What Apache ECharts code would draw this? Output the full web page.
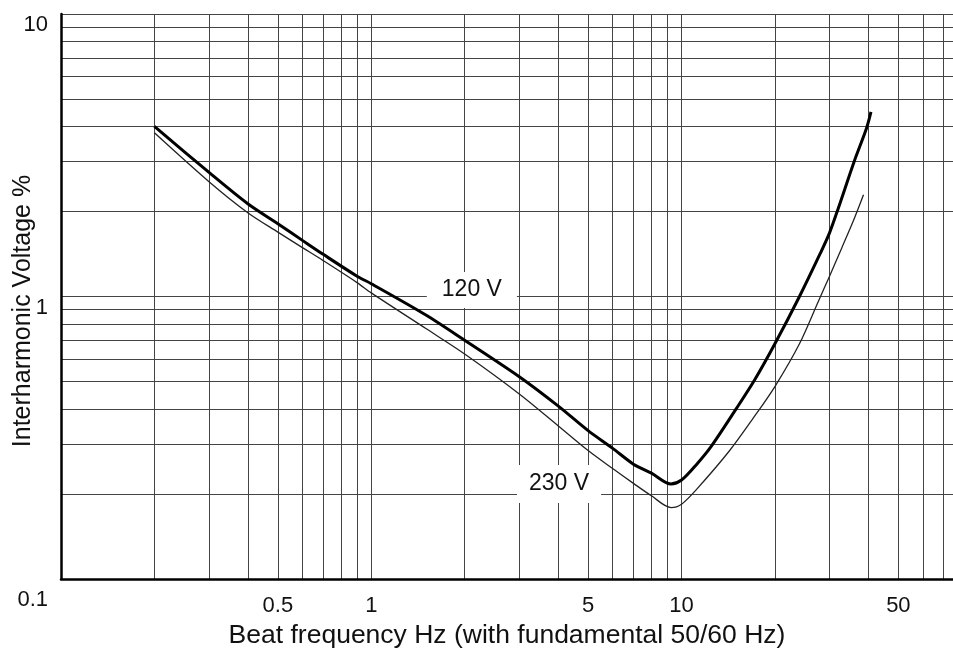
<!DOCTYPE html>
<html>
<head>
<meta charset="utf-8">
<title>Interharmonic voltage vs beat frequency</title>
<script src="https://cdn.jsdelivr.net/npm/echarts@6/dist/echarts.min.js"></script>
<style>html,body{margin:0;padding:0;background:#fff;}</style>
</head>
<body>
<div id="main" style="width:953px;height:651px;"></div>
<script>
// 120 V curve (thick line)
var freq120 = [0.2, 0.3, 0.4, 0.5, 0.6, 0.7, 0.9, 1.0, 1.5, 2, 3, 4, 5, 6, 7, 8, 9.25, 10, 11.2, 12.5, 15, 17.2, 20, 24, 28, 30, 32, 36, 39.5, 40.8];
var volt120 = [4.0, 2.75, 2.13, 1.81, 1.58, 1.41, 1.18, 1.11, 0.86, 0.70, 0.52, 0.41, 0.335, 0.29, 0.255, 0.237, 0.217, 0.224, 0.255, 0.296, 0.40, 0.506, 0.68, 1.0, 1.42, 1.68, 2.05, 3.0, 3.95, 4.5];
// 230 V curve (thin line)
var freq230 = [0.2, 0.3, 0.4, 0.5, 0.6, 0.7, 0.9, 1.0, 1.5, 2, 3, 4, 5, 6, 7, 8, 9.25, 10, 11.2, 14.3, 17, 20, 24, 27.6, 30, 32.8, 36, 38.6];
var volt230 = [3.8, 2.55, 1.98, 1.69, 1.49, 1.34, 1.12, 1.03, 0.77, 0.626, 0.452, 0.349, 0.285, 0.246, 0.218, 0.197, 0.179, 0.184, 0.208, 0.285, 0.37, 0.48, 0.68, 0.96, 1.18, 1.48, 1.88, 2.29];

// grid lines and tick labels
var xGrid = [0.2, 0.3, 0.4, 0.5, 0.6, 0.7, 0.8, 0.9, 1, 2, 3, 4, 5, 6, 7, 8, 9, 10, 20, 30, 40, 50, 60, 70];
var yGrid = [0.2, 0.3, 0.4, 0.5, 0.6, 0.7, 0.8, 0.9, 1, 2, 3, 4, 5, 6, 7, 8, 9, 10];
var xLabels = [0.5, 1, 5, 10, 50];
var yLabels = [0.1, 1, 10];

function pairs(xs, ys) {
	var res = [];
	for (var i = 0; i < xs.length; i++) {
		res.push([xs[i], ys[i]]);
	}
	return res;
}

var font = "'Liberation Sans', Arial, sans-serif";
var chart = echarts.init(document.getElementById('main'));

var option = {
	backgroundColor: '#fff',
	animation: false,
	textStyle: { fontFamily: font, color: '#111' },
	grid: { left: 61, right: 0, top: 14, bottom: 72, containLabel: false, outerBoundsMode: 'none' },
	xAxis: {
		type: 'log',
		logBase: 10,
		min: 0.1,
		max: 75,
		name: 'Beat frequency Hz (with fundamental 50/60 Hz)',
		nameLocation: 'middle',
		nameGap: 43,
		nameMoveOverlap: false,
		nameTextStyle: { fontSize: 26.5, color: '#111', fontFamily: font },
		axisLine: { show: true, lineStyle: { color: '#000', width: 2.5 } },
		axisTick: { show: false, customValues: xGrid },
		axisLabel: { customValues: xLabels, fontSize: 22, color: '#111', margin: 16, fontFamily: font },
		splitLine: { show: true, lineStyle: { color: '#444', width: 1 } }
	},
	yAxis: {
		type: 'log',
		logBase: 10,
		min: 0.1,
		max: 10,
		name: 'Interharmonic Voltage %',
		nameLocation: 'middle',
		nameGap: 25,
		nameMoveOverlap: false,
		nameTextStyle: { fontSize: 25, color: '#111', fontFamily: font, padding: [0, 29, 0, 0] },
		axisLine: { show: true, lineStyle: { color: '#000', width: 2.5 } },
		axisTick: { show: false, customValues: yGrid },
		axisLabel: {
			customValues: yLabels,
			fontSize: 22,
			color: '#111',
			margin: 13,
			verticalAlign: 'top',
			fontFamily: font,
			formatter: function (v) {
				return v < 0.5 ? '{low|' + v + '}' : '' + v;
			},
			rich: {
				low: { fontSize: 22, color: '#111', fontFamily: font, padding: [10, 0, 0, 0] }
			}
		},
		splitLine: { show: true, lineStyle: { color: '#444', width: 1 } }
	},
	series: [{
		name: '120 V',
		type: 'line',
		data: pairs(freq120, volt120),
		smooth: 0.3,
		showSymbol: false,
		lineStyle: { color: '#000', width: 3 },
		markPoint: {
			symbol: 'rect',
			symbolSize: 0,
			label: {
				show: true,
				position: 'inside',
				formatter: '120 V',
				fontSize: 23,
				color: '#111',
				fontFamily: font,
				backgroundColor: '#fff',
				padding: [12, 15, 1, 15]
			},
			data: [{ coord: [2.11, 1.055] }]
		}
	}, {
		name: '230 V',
		type: 'line',
		data: pairs(freq230, volt230),
		smooth: 0.3,
		showSymbol: false,
		lineStyle: { color: '#222', width: 1.3 },
		markPoint: {
			symbol: 'rect',
			symbolSize: 0,
			label: {
				show: true,
				position: 'inside',
				formatter: '230 V',
				fontSize: 23,
				color: '#111',
				fontFamily: font,
				backgroundColor: '#fff',
				padding: [13, 12, 2, 12]
			},
			data: [{ coord: [4.03, 0.217] }]
		}
	}]
};
chart.setOption(option);
</script>
</body>
</html>
